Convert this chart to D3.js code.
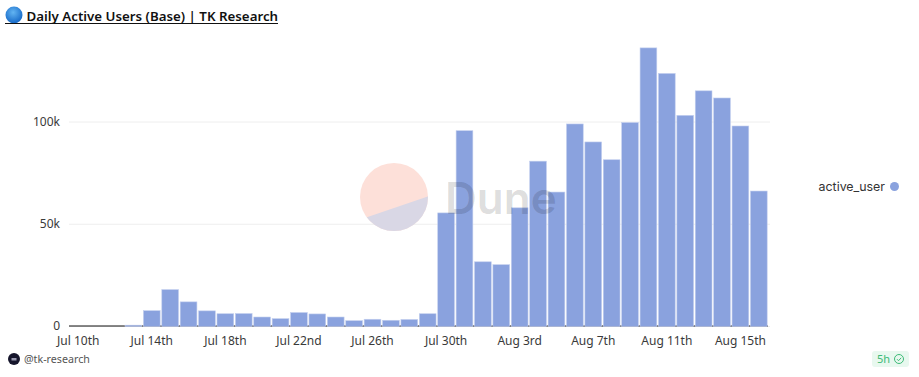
<!DOCTYPE html>
<html>
<head>
<meta charset="utf-8">
<script src="https://cdn.jsdelivr.net/npm/d3@7"></script>
<style>
  html, body { margin: 0; padding: 0; background: #fff; }
  svg { display: block; }
  text { font-family: "Noto Sans", sans-serif; }
</style>
</head>
<body>
<svg class="chart" width="919" height="377"></svg>
<script>
const days = [
  "Jul 10th", "Jul 11th", "Jul 12th", "Jul 13th", "Jul 14th", "Jul 15th", "Jul 16th", "Jul 17th",
  "Jul 18th", "Jul 19th", "Jul 20th", "Jul 21st", "Jul 22nd", "Jul 23rd", "Jul 24th", "Jul 25th",
  "Jul 26th", "Jul 27th", "Jul 28th", "Jul 29th", "Jul 30th", "Jul 31st", "Aug 1st", "Aug 2nd",
  "Aug 3rd", "Aug 4th", "Aug 5th", "Aug 6th", "Aug 7th", "Aug 8th", "Aug 9th", "Aug 10th",
  "Aug 11th", "Aug 12th", "Aug 13th", "Aug 14th", "Aug 15th", "Aug 16th",
];
const activeUser = [
  0, 0, 0, 400, 7500, 17800, 11800, 7400,
  6000, 6100, 4400, 3600, 6600, 5900, 4400, 2600,
  3300, 2800, 3200, 6000, 55300, 95500, 31400, 30000,
  57800, 80600, 65500, 98800, 90000, 81300, 99500, 136000,
  123500, 103000, 115000, 111500, 97800, 66000,
];
const xTicks = [
  "Jul 10th", "Jul 14th", "Jul 18th", "Jul 22nd", "Jul 26th",
  "Jul 30th", "Aug 3rd", "Aug 7th", "Aug 11th", "Aug 15th",
];
const yTicks = [0, 50000, 100000];

const svg = d3.select(".chart");
const plotLeft = 69, plotRight = 768, plotBottom = 326;

const x = d3.scaleBand().domain(days).range([plotLeft, plotRight]).paddingInner(0.09).paddingOuter(0.045);
const y = d3.scaleLinear().domain([0, 100000]).range([plotBottom, 121.5]);

const defs = svg.append("defs");
const ball = defs.append("radialGradient").attr("id", "ball").attr("cx", "45%").attr("cy", "35%").attr("r", "70%");
ball.append("stop").attr("offset", "0%").attr("stop-color", "#62b4f2");
ball.append("stop").attr("offset", "100%").attr("stop-color", "#0f62c4");

// title
svg.append("circle").attr("cx", 14).attr("cy", 15).attr("r", 8.5).attr("fill", "url(#ball)");
svg.append("text")
  .attr("x", 26.5)
  .attr("y", 21)
  .attr("font-size", 13.3)
  .attr("font-weight", 600)
  .attr("fill", "#111")
  .text("Daily Active Users (Base) | TK Research");
svg.append("line")
  .attr("x1", 5).attr("x2", 278)
  .attr("y1", 23.5).attr("y2", 23.5)
  .attr("stroke", "#111");

// y axis and grid
const yAxis = d3.axisLeft(y)
  .tickValues(yTicks)
  .tickSize(0)
  .tickPadding(9)
  .tickFormat((d) => (d === 0 ? "0" : d / 1000 + "k"));
const yG = svg.append("g").attr("transform", `translate(${plotLeft},0)`).call(yAxis);
yG.select(".domain").remove();
yG.selectAll("text").attr("font-size", 12).attr("fill", "#3a3a3a").style("font-family", '"Noto Sans", sans-serif');
yG.selectAll(".tick")
  .append("line")
  .attr("x2", plotRight - plotLeft + 2)
  .attr("stroke", "#eeeeee");

// baseline
svg.append("line")
  .attr("x1", plotLeft).attr("x2", plotRight)
  .attr("y1", plotBottom).attr("y2", plotBottom)
  .attr("stroke", "#111")
  .attr("stroke-width", 1);

// bars
const barData = days.map((day, i) => ({ day, value: activeUser[i] })).filter((d) => d.value > 0);
svg.append("g")
  .selectAll("rect")
  .data(barData)
  .join("rect")
  .attr("x", (d) => x(d.day))
  .attr("width", x.bandwidth())
  .attr("y", (d) => y(d.value))
  .attr("height", (d) => plotBottom - y(d.value) + 0.5)
  .attr("fill", "#8aa2de")
  .attr("stroke", "#c3cfee")
  .attr("stroke-width", 0.6);

// x axis
const xAxis = d3.axisBottom(x).tickValues(xTicks).tickSize(0).tickPadding(10);
const xG = svg.append("g").attr("transform", `translate(0,${plotBottom})`).call(xAxis);
xG.select(".domain").remove();
xG.selectAll("text").attr("font-size", 12).attr("fill", "#3a3a3a").style("font-family", '"Noto Sans", sans-serif');

// watermark
const mark = svg.append("g");
mark.append("circle").attr("cx", 394).attr("cy", 197).attr("r", 34).attr("fill", "#fde0d9");
defs.append("clipPath").attr("id", "logoLow")
  .append("path").attr("d", "M350,230 L350,223 L438,193 L438,240 L350,240 Z");
mark.append("circle").attr("cx", 394).attr("cy", 197).attr("r", 34)
  .attr("fill", "#d9d7e5").attr("clip-path", "url(#logoLow)");
mark.append("text")
  .attr("x", 445)
  .attr("y", 214)
  .attr("font-size", 44)
  .attr("font-weight", 600)
  .attr("fill", "#000")
  .attr("fill-opacity", 0.14)
  .style("font-family", "Inter, sans-serif")
  .text("Dune");

// legend
svg.append("text")
  .attr("x", 885).attr("y", 191)
  .attr("text-anchor", "end")
  .attr("font-size", 12.4)
  .attr("fill", "#333")
  .style("font-family", "Inter, sans-serif")
  .text("active_user");
svg.append("circle").attr("cx", 894.5).attr("cy", 186.5).attr("r", 4.5).attr("fill", "#8aa2de");

// footer left
svg.append("circle").attr("cx", 14).attr("cy", 359).attr("r", 6).attr("fill", "#15152b");
svg.append("rect").attr("x", 11.5).attr("y", 358).attr("width", 5).attr("height", 2.5).attr("fill", "#9a9ab0");
svg.append("text")
  .attr("x", 24).attr("y", 363)
  .attr("font-size", 10.7)
  .attr("fill", "#555")
  .text("@tk-research");

// footer right
svg.append("rect")
  .attr("x", 872).attr("y", 351)
  .attr("width", 37).attr("height", 16)
  .attr("rx", 3)
  .attr("fill", "#e8f8ef");
svg.append("text")
  .attr("x", 877).attr("y", 363)
  .attr("font-size", 11)
  .attr("fill", "#3dbb77")
  .text("5h");
svg.append("circle")
  .attr("cx", 899).attr("cy", 359).attr("r", 4.5)
  .attr("fill", "none").attr("stroke", "#3dbb77").attr("stroke-width", 1);
svg.append("path")
  .attr("d", "M897,359.2 L898.5,360.7 L901.2,357.8")
  .attr("fill", "none").attr("stroke", "#3dbb77").attr("stroke-width", 1);
</script>
</body>
</html>
